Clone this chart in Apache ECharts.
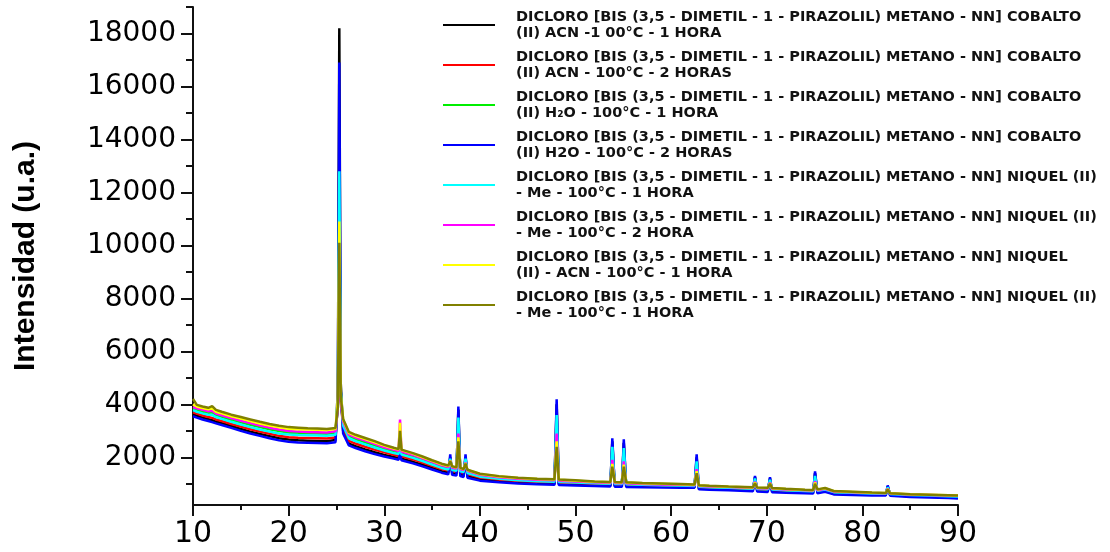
<!DOCTYPE html>
<html>
<head>
<meta charset="utf-8">
<script src="https://cdn.jsdelivr.net/npm/echarts@6/dist/echarts.min.js"></script>
<style>
  html, body { margin: 0; padding: 0; background: #fff; }
  #chart { width: 1110px; height: 552px; }
</style>
</head>
<body>
<div id="chart"></div>
<script>
// 2 theta positions shared by every pattern
var twoTheta = [10, 10.4, 11, 11.6, 12, 12.4, 13, 14, 15, 16, 17, 18, 19, 20, 21, 22, 23, 24, 24.9, 25.15,
  25.3, 25.45, 25.7, 26.3, 27, 28, 29, 30, 31, 31.5, 31.65, 31.8, 33, 34, 35, 36, 36.7, 36.9, 37.1, 37.55,
  37.75, 37.95, 38.3, 38.5, 38.7, 40, 42, 44, 46, 47.8, 48.03, 48.25, 50, 52, 53.65, 53.85, 54.1, 54.85, 55.05, 55.3,
  57, 59, 61, 62.45, 62.67, 62.9, 64, 66, 68.55, 68.77, 69, 70.1, 70.34, 70.55, 72, 74, 74.85, 75.05, 75.3, 76.1,
  77, 79, 81, 82.45, 82.65, 82.9, 85, 87, 89, 90];

var coAcn1h = [3620, 3570, 3500, 3440, 3400, 3350, 3290, 3180, 3070, 2970, 2880, 2800, 2720, 2670, 2640, 2630, 2620, 2610, 2650, 4600,
  18200, 4800, 3000, 2520, 2420, 2300, 2190, 2090, 2010, 1970, 2300, 1950, 1830, 1720, 1600, 1480, 1420, 2000, 1400, 1370,
  3800, 1350, 1320, 2000, 1290, 1170, 1100, 1050, 1020, 1000, 4000, 995, 980, 960, 940, 2600, 930, 925, 2550, 920,
  910, 900, 890, 880, 2000, 830, 820, 800, 760, 1250, 750, 730, 1200, 725, 700, 680, 670, 1400, 680, 730,
  630, 610, 590, 585, 900, 580, 530, 510, 490, 480];

var coAcn2h = [3700, 3650, 3580, 3520, 3490, 3430, 3370, 3260, 3160, 3060, 2970, 2890, 2810, 2760, 2740, 2730, 2720, 2710, 2750, 4100,
  9800, 4300, 3100, 2620, 2520, 2400, 2290, 2190, 2100, 2060, 2600, 2040, 1920, 1800, 1680, 1560, 1500, 1900, 1480, 1450,
  3000, 1430, 1400, 1850, 1370, 1240, 1160, 1110, 1080, 1060, 3000, 1050, 1030, 1000, 980, 2100, 975, 970, 2050, 965,
  950, 930, 920, 910, 1700, 870, 860, 840, 800, 1150, 790, 770, 1100, 765, 740, 715, 705, 1200, 715, 770,
  670, 645, 620, 610, 850, 605, 560, 540, 520, 510];

var coH2o1h = [3850, 3780, 3720, 3680, 3700, 3600, 3530, 3420, 3320, 3230, 3140, 3060, 2990, 2940, 2920, 2910, 2900, 2890, 2930, 3900,
  9300, 4100, 3300, 2800, 2690, 2570, 2450, 2330, 2230, 2190, 2900, 2170, 2050, 1920, 1790, 1660, 1600, 1900, 1580, 1550,
  3100, 1530, 1500, 1850, 1470, 1320, 1230, 1170, 1130, 1110, 3200, 1100, 1070, 1040, 1020, 2000, 1015, 1010, 1950, 1005,
  985, 965, 950, 935, 1600, 905, 890, 865, 830, 1100, 820, 805, 1080, 800, 770, 745, 735, 1150, 750, 800,
  695, 670, 645, 630, 830, 625, 585, 565, 545, 535];

var coH2o2h = [3550, 3500, 3430, 3370, 3330, 3280, 3220, 3110, 3000, 2900, 2810, 2720, 2640, 2590, 2560, 2550, 2540, 2530, 2570, 4200,
  16900, 4500, 2900, 2450, 2350, 2230, 2120, 2030, 1950, 1910, 2150, 1890, 1770, 1660, 1540, 1420, 1360, 2110, 1340, 1310,
  3920, 1290, 1260, 2110, 1230, 1120, 1060, 1010, 980, 960, 4190, 955, 940, 920, 900, 2720, 890, 885, 2680, 880,
  870, 860, 855, 850, 2110, 790, 780, 760, 720, 1300, 710, 690, 1250, 685, 660, 640, 630, 1470, 640, 700,
  600, 580, 560, 555, 940, 550, 500, 480, 460, 450];

var niMe1h = [3780, 3720, 3660, 3610, 3600, 3520, 3450, 3340, 3240, 3140, 3050, 2970, 2900, 2860, 2840, 2830, 2820, 2810, 2850, 4300,
  12800, 4500, 3200, 2720, 2610, 2490, 2370, 2260, 2160, 2120, 2700, 2100, 1980, 1860, 1730, 1600, 1540, 1950, 1520, 1490,
  3500, 1470, 1440, 1950, 1410, 1270, 1190, 1130, 1100, 1080, 3600, 1070, 1050, 1020, 1000, 2400, 995, 990, 2350, 985,
  965, 950, 935, 920, 1850, 885, 870, 850, 815, 1200, 805, 790, 1150, 785, 755, 730, 720, 1300, 735, 785,
  685, 660, 635, 620, 870, 615, 575, 555, 535, 525];

var niMe2h = [3900, 3850, 3790, 3740, 3760, 3650, 3590, 3480, 3380, 3290, 3200, 3120, 3050, 2990, 2970, 2960, 2950, 2940, 2980, 3900,
  9500, 4100, 3350, 2860, 2750, 2630, 2510, 2380, 2280, 2240, 3430, 2220, 2090, 1960, 1830, 1700, 1630, 1880, 1610, 1580,
  2900, 1560, 1520, 1800, 1490, 1340, 1250, 1190, 1150, 1130, 2900, 1120, 1090, 1055, 1035, 1900, 1030, 1025, 1850, 1020,
  995, 975, 960, 945, 1550, 915, 900, 875, 845, 1080, 835, 820, 1050, 815, 785, 755, 745, 1100, 760, 815,
  710, 680, 655, 640, 820, 635, 595, 575, 555, 545];

var niAcn1h = [4000, 3920, 3860, 3810, 3850, 3720, 3660, 3550, 3460, 3370, 3280, 3200, 3130, 3080, 3060, 3050, 3040, 3030, 3070, 4200,
  10900, 4400, 3420, 2920, 2810, 2690, 2570, 2440, 2330, 2290, 3300, 2270, 2140, 2000, 1870, 1740, 1670, 1870, 1650, 1610,
  2750, 1590, 1550, 1780, 1520, 1370, 1280, 1220, 1180, 1160, 2600, 1150, 1120, 1080, 1060, 1750, 1060, 1050, 1720, 1050,
  1020, 1000, 980, 960, 1480, 940, 920, 890, 860, 1050, 850, 840, 1020, 830, 800, 770, 760, 1050, 780, 830,
  725, 695, 665, 650, 800, 645, 605, 585, 565, 555];

var niMe1hB = [4200, 3980, 3920, 3870, 3930, 3790, 3720, 3610, 3520, 3430, 3340, 3260, 3190, 3140, 3120, 3100, 3090, 3070, 3110, 3900,
  10100, 4300, 3450, 2960, 2850, 2730, 2610, 2470, 2360, 2310, 3000, 2290, 2160, 2030, 1890, 1760, 1690, 1850, 1660, 1620,
  2600, 1600, 1560, 1760, 1530, 1380, 1290, 1230, 1190, 1170, 2400, 1160, 1130, 1090, 1070, 1650, 1070, 1060, 1650, 1060,
  1030, 1010, 990, 970, 1400, 950, 930, 900, 870, 1020, 860, 850, 1000, 840, 810, 780, 770, 1000, 790, 840,
  730, 700, 670, 650, 790, 640, 610, 590, 570, 560];

var base = 'DICLORO [BIS (3,5 - DIMETIL - 1 - PIRAZOLIL) METANO - NN] ';
var seriesNames = [
  base + 'COBALTO\n(II) ACN -1 00°C - 1 HORA',
  base + 'COBALTO\n(II) ACN - 100°C - 2 HORAS',
  base + 'COBALTO\n(II) H₂O - 100°C - 1 HORA',
  base + 'COBALTO\n(II) H2O - 100°C - 2 HORAS',
  base + 'NIQUEL (II)\n- Me - 100°C - 1 HORA',
  base + 'NIQUEL (II)\n- Me - 100°C - 2 HORA',
  base + 'NIQUEL\n(II) - ACN - 100°C - 1 HORA',
  base + 'NIQUEL (II)\n- Me - 100°C - 1 HORA '
];
var seriesValues = [coAcn1h, coAcn2h, coH2o1h, coH2o2h, niMe1h, niMe2h, niAcn1h, niMe1hB];
var colors = ['#000000', '#ff0000', '#00ee00', '#0000ff', '#00ffff', '#ff00ff', '#ffff00', '#808000'];

var yMajor = [2000, 4000, 6000, 8000, 10000, 12000, 14000, 16000, 18000];
var yMinor = [1000, 3000, 5000, 7000, 9000, 11000, 13000, 15000, 17000, 19000];

var chart = echarts.init(document.getElementById('chart'));

var series = seriesValues.map(function (vals, k) {
  return {
    name: seriesNames[k],
    type: 'line',
    showSymbol: false,
    symbol: 'none',
    color: colors[k],
    lineStyle: { width: 2.5, color: colors[k] },
    data: twoTheta.map(function (x, i) { return [x, vals[i]]; })
  };
});

var option = {
  animation: false,
  backgroundColor: '#fff',
  grid: { left: 193, right: 152, top: 7, bottom: 47 },
  legend: {
    orient: 'vertical',
    left: 443,
    top: 9,
    padding: 0,
    itemGap: 8,
    itemWidth: 52,
    itemHeight: 2,
    icon: 'rect',
    data: seriesNames,
    textStyle: {
      fontFamily: 'DejaVu Sans',
      fontWeight: 'bold',
      fontSize: 14.5,
      lineHeight: 16,
      color: '#111',
      padding: [0, 0, 0, 16]
    }
  },
  xAxis: {
    type: 'value',
    min: 10,
    max: 90,
    interval: 10,
    axisLine: { lineStyle: { color: '#111', width: 2 } },
    axisTick: { length: 11, lineStyle: { color: '#111', width: 2 } },
    minorTick: { show: true, splitNumber: 2, length: 5, lineStyle: { color: '#111', width: 2 } },
    splitLine: { show: false },
    axisLabel: { fontFamily: 'DejaVu Sans', fontSize: 30, color: '#000', margin: 14 }
  },
  yAxis: [{
    type: 'value',
    min: 200,
    max: 19000,
    name: 'Intensidad (u.a.)',
    nameLocation: 'middle',
    nameGap: 152,
    nameTextStyle: { fontFamily: 'Liberation Sans', fontWeight: 'bold', fontSize: 30, color: '#000' },
    axisLine: { show: true, lineStyle: { color: '#111', width: 2 } },
    axisTick: { show: true, length: 12, customValues: yMajor, lineStyle: { color: '#111', width: 2 } },
    splitLine: { show: false },
    axisLabel: {
      customValues: yMajor,
      formatter: function (v) { return String(v); },
      fontFamily: 'DejaVu Sans', fontSize: 28, color: '#000', margin: 17
    }
  }, {
    type: 'value',
    min: 200,
    max: 19000,
    position: 'left',
    offset: 0,
    axisLine: { show: false },
    axisTick: { show: true, length: 7, customValues: yMinor, lineStyle: { color: '#111', width: 2 } },
    axisLabel: { show: false },
    splitLine: { show: false }
  }],
  series: series
};

chart.setOption(option);
</script>
</body>
</html>
